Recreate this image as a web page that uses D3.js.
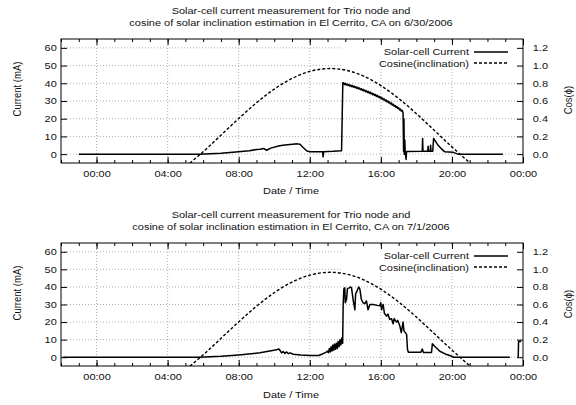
<!DOCTYPE html>
<html>
<head>
<meta charset="utf-8">
<script src="https://cdn.jsdelivr.net/npm/d3@7"></script>
<style>
  body { margin: 0; background: #fff; }
  svg { display: block; }
  text { font-family: "Liberation Sans", Arial, Helvetica, sans-serif; fill: #111; }
</style>
</head>
<body>
<svg width="576" height="405"></svg>
<script>
// hours relative to midnight of the plotted day
var hourTicks = [0, 4, 8, 12, 16, 20, 24];
var currentTicks = [0, 10, 20, 30, 40, 50, 60];
var cosTicks = [0, 0.2, 0.4, 0.6, 0.8, 1.0, 1.2];

// cosine of solar inclination
var cosHours = [4, 5, 6, 7, 8, 9, 10, 11, 12, 13, 14, 15, 16, 17, 18, 19, 20, 21, 22];
var cosValues = [-0.33, -0.145, 0.027, 0.214, 0.402, 0.580, 0.734, 0.855, 0.934, 0.966, 0.949, 0.884, 0.774, 0.629, 0.457, 0.270, 0.082, -0.096, -0.26];

// 6/30/2006 solar-cell current (mA)
var timeJun30 = [-1, 5.8, 7, 8, 8.6, 9.0, 9.2, 9.4, 9.57, 9.8, 10.3, 10.6, 10.9, 11.3, 11.45, 11.6, 11.82, 12.0, 12.5,
  12.72, 12.75, 12.78, 13.3, 13.79, 13.86, 13.9, 13.95, 14.0, 14.05, 14.1, 14.15, 14.2, 14.25, 14.3, 14.35, 14.4, 14.45,
  14.5, 14.55, 14.6, 14.65, 14.7, 14.75, 14.8, 14.85, 14.9, 14.95, 15.0, 15.05, 15.1, 15.15, 15.2, 15.25, 15.3, 15.35,
  15.4, 15.45, 15.5, 15.55, 15.6, 15.65, 15.7, 15.75, 15.8, 15.85, 15.9, 15.95, 16.0, 16.05, 16.1, 16.15, 16.2, 16.25,
  16.3, 16.35, 16.4, 16.45, 16.5, 16.55, 16.6, 16.65, 16.7, 16.75, 16.8, 16.85, 16.9, 16.95, 17.0, 17.05, 17.1, 17.15,
  17.2, 17.25, 17.28, 17.3, 17.32, 17.35, 17.37, 17.42, 17.45, 18.33, 18.35, 18.37, 18.64, 18.66, 18.68, 18.78, 18.8,
  18.82, 18.92, 18.97, 19.22, 19.41, 19.6, 20.07, 20.35, 22.87];
var currentJun30 = [0, 0, 0.5, 1.3, 1.9, 2.6, 2.8, 3.2, 2.2, 3.4, 4.7, 5.2, 5.5, 5.8, 5.6, 4.0, 1.9, 1.3, 1.4,
  1.4, -1.5, 1.4, 1.6, 1.9, 40.3, 40.3, 39.3, 40.0, 39.0, 39.6, 38.8, 39.3, 38.4, 39.0, 38.1, 38.7, 37.8,
  38.4, 37.5, 38.0, 37.1, 37.7, 36.8, 37.3, 36.4, 36.9, 36.0, 36.6, 35.6, 36.2, 35.2, 35.8, 34.8, 35.4, 34.4,
  35.0, 34.0, 34.5, 33.5, 34.1, 33.1, 33.6, 32.6, 33.2, 32.2, 32.7, 31.7, 32.2, 31.1, 31.7, 30.6, 31.1, 30.0,
  30.6, 29.5, 30.0, 28.9, 29.4, 28.3, 28.8, 27.7, 28.2, 27.1, 27.5, 26.4, 26.9, 25.8, 26.2, 25.0, 25.5, 24.3,
  24.7, 23.5, 1.5, 20, 0, 8, 1.5, -3, 1.5, 1.7, 8.9, 1.7, 1.7, 4.5, 1.7, 1.7, 5.0,
  1.7, 1.7, 8.9, 5.0, 3.0, 1.3, 1.0, 0, 0];

// 7/1/2006 solar-cell current (mA); null marks the gap in the log
var timeJul1 = [-1.9, 5.8, 7, 8, 9.2, 10.13, 10.26, 10.35, 10.41, 10.5, 10.6, 10.7, 10.8, 10.9, 11.07, 11.5, 12.0, 12.5,
  12.75, 12.9, 13.0, 13.05, 13.1, 13.15, 13.2, 13.25, 13.3, 13.35, 13.4, 13.45, 13.5, 13.55, 13.6, 13.65, 13.7, 13.75,
  13.8, 13.85, 13.88, 13.92, 13.97, 14.0, 14.07, 14.12, 14.22, 14.3, 14.35, 14.45, 14.54, 14.58, 14.63, 14.75, 14.82,
  14.9, 15.0, 15.1, 15.19, 15.28, 15.38, 15.57, 15.8, 15.94, 16.0, 16.04, 16.13, 16.2, 16.32, 16.4, 16.5, 16.6, 16.69,
  16.75, 16.88, 16.95, 17.07, 17.15, 17.25, 17.3, 17.45, 17.5, 17.55, 18.25, 18.33, 18.4, 18.85, 18.9, 19.0, 19.32,
  19.7, 20.0, 20.1, 23.26, 23.5, 23.73, 23.75, 23.9];
var currentJul1 = [0, 0, 0.5, 1.3, 2.5, 4.3, 4.7, 3.5, 2.5, 3.2, 2.2, 3.0, 2.0, 2.5, 1.7, 1.3, 1.0, 1.0,
  2.0, 2.8, 3.5, 2.5, 5, 3, 6, 3.5, 7, 4, 7.5, 4.5, 8, 5, 9, 6, 10, 7,
  11, 8, 30, 39, 39.5, 31, 33, 39, 39.5, 40, 39.5, 32, 27, 36, 37, 40, 38.7,
  33, 31, 30.5, 32, 27, 30, 30, 29.5, 29.3, 31, 27, 30, 25, 23.4, 24.5, 21.5, 22, 19,
  22, 20, 21, 17.7, 14, 20, 15, 13, 4.4, 2.8, 2.8, 4.7, 2.7, 2.7, 7.7, 6.5, 3.4,
  1.5, 0.5, 0, 0, null, 0, 9, 9];

var titles = [
  ["Solar-cell current measurement for Trio node and", "cosine of solar inclination estimation in El Cerrito, CA on 6/30/2006"],
  ["Solar-cell current measurement for Trio node and", "cosine of solar inclination estimation in El Cerrito, CA on 7/1/2006"]
];

var svg = d3.select("svg");
var left = 61, right = 523;
var fontPx = 9, stretch = 1.22;

var panels = [
  { top: 39, bottom: 163, time: timeJun30, current: currentJun30, title: titles[0] },
  { top: 243, bottom: 366, time: timeJul1, current: currentJul1, title: titles[1] }
];

function stretched(sel) {
  sel.style("font-size", fontPx + "px").attr("transform", "scale(" + stretch + ",1)");
}

function label(g, x, y, txt, anchor) {
  g.append("text")
    .attr("transform", "translate(" + x + "," + y + ") scale(" + stretch + ",1)")
    .attr("text-anchor", anchor || "middle")
    .style("font-size", fontPx + "px")
    .text(txt);
}

panels.forEach(function(p, pi) {
  var g = svg.append("g");
  var x = d3.scaleLinear().domain([-2, 24]).range([left, right]);
  var y = d3.scaleLinear().domain([-5, 65]).range([p.bottom, p.top]);
  var y2 = d3.scaleLinear().domain([-0.1, 1.3]).range([p.bottom, p.top]);

  var clipId = "clip" + pi;
  g.append("clipPath").attr("id", clipId)
    .append("rect").attr("x", left).attr("y", p.top)
    .attr("width", right - left).attr("height", p.bottom - p.top);

  // grid
  var grid = g.append("g")
    .attr("stroke", "#9a9a9a").attr("stroke-width", 0.8).attr("stroke-dasharray", "1,2");
  grid.selectAll(".gx").data(hourTicks.filter(function(d) { return d < 24; }))
    .enter().append("line")
    .attr("x1", function(d) { return x(d); }).attr("x2", function(d) { return x(d); })
    .attr("y1", p.top).attr("y2", p.bottom);
  grid.selectAll(".gy").data(currentTicks)
    .enter().append("line")
    .attr("y1", function(d) { return y(d); }).attr("y2", function(d) { return y(d); })
    .attr("x1", left).attr("x2", right);

  // opaque key box
  g.append("rect").attr("x", 342).attr("y", p.top + 1)
    .attr("width", right - 342 - 1).attr("height", 29).attr("fill", "#fff");

  // curves
  var plot = g.append("g").attr("clip-path", "url(#" + clipId + ")");
  var cosLine = d3.line()
    .x(function(d, i) { return x(cosHours[i]); })
    .y(function(d) { return y2(d); })
    .curve(d3.curveNatural);
  plot.append("path").datum(cosValues)
    .attr("d", cosLine)
    .attr("fill", "none").attr("stroke", "#000")
    .attr("stroke-width", 1.4).attr("stroke-dasharray", "3,2");

  var curLine = d3.line()
    .defined(function(d) { return d !== null; })
    .x(function(d, i) { return x(p.time[i]); })
    .y(function(d) { return y(d); });
  plot.append("path").datum(p.current)
    .attr("d", curLine)
    .attr("fill", "none").attr("stroke", "#000")
    .attr("stroke-width", 1.5).attr("stroke-linejoin", "round");

  // axes: ticks drawn inward, gnuplot style
  var fmtHour = function(h) { return d3.format("02d")(h % 24) + ":00"; };
  var xb = g.append("g").attr("transform", "translate(0," + p.bottom + ")")
    .call(d3.axisBottom(x).tickValues(hourTicks).tickSize(-6).tickPadding(8).tickFormat(fmtHour));
  xb.selectAll("text").call(stretched);
  g.append("g").attr("transform", "translate(0," + p.bottom + ")")
    .call(d3.axisBottom(x).tickValues(d3.range(-2, 25)).tickSize(-3).tickFormat(""));
  g.append("g").attr("transform", "translate(0," + p.top + ")")
    .call(d3.axisTop(x).tickValues(hourTicks).tickSize(-6).tickFormat(""));
  g.append("g").attr("transform", "translate(0," + p.top + ")")
    .call(d3.axisTop(x).tickValues(d3.range(-2, 25)).tickSize(-3).tickFormat(""));

  var yl = g.append("g").attr("transform", "translate(" + left + ",0)")
    .call(d3.axisLeft(y).tickValues(currentTicks).tickSize(-6).tickPadding(3.5));
  yl.selectAll("text").call(stretched);
  var yr = g.append("g").attr("transform", "translate(" + right + ",0)")
    .call(d3.axisRight(y2).tickValues(cosTicks).tickSize(-6).tickPadding(8).tickFormat(d3.format(".1f")));
  yr.selectAll("text").call(stretched);
  g.selectAll(".domain").remove();
  g.selectAll(".tick line").attr("stroke", "#000");

  g.append("rect").attr("x", left).attr("y", p.top)
    .attr("width", right - left).attr("height", p.bottom - p.top)
    .attr("fill", "none").attr("stroke", "#000").attr("stroke-width", 1);

  // titles and axis labels
  var off = p.top - 39;
  label(g, 291, 14 + off, p.title[0]);
  label(g, 291, 26 + off, p.title[1]);
  label(g, 291, 194 + off, "Date / Time");
  g.append("text")
    .attr("transform", "translate(20.5," + (89 + off) + ") rotate(-90) scale(1,1.2)")
    .attr("text-anchor", "middle").style("font-size", "9.5px")
    .text("Current (mA)");
  g.append("text")
    .attr("transform", "translate(572," + (100 + off) + ") rotate(-90) scale(1,1.2)")
    .attr("text-anchor", "middle").style("font-size", "9.5px")
    .text("Cos(\u03d5)");

  // key
  var keyX = 469;
  label(g, keyX, 55 + off, "Solar-cell Current", "end");
  label(g, keyX, 66.5 + off, "Cosine(inclination)", "end");
  g.append("line").attr("x1", 474).attr("x2", 508)
    .attr("y1", 52 + off).attr("y2", 52 + off)
    .attr("stroke", "#000").attr("stroke-width", 1.5);
  g.append("line").attr("x1", 474).attr("x2", 508)
    .attr("y1", 63 + off).attr("y2", 63 + off)
    .attr("stroke", "#000").attr("stroke-width", 1.4).attr("stroke-dasharray", "3,2");
});
</script>
</body>
</html>
